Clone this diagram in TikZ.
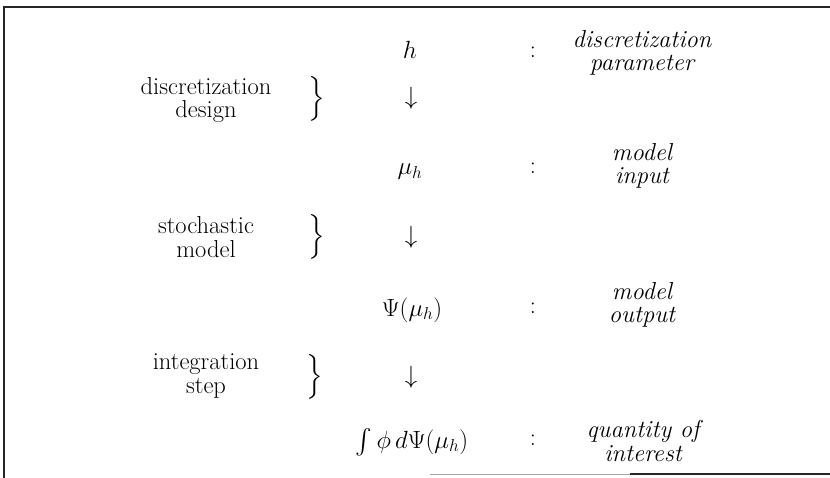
\documentclass[tikz,border=0pt]{standalone}
\usepackage{amsmath}
\begin{document}
\begin{tikzpicture}[x=1pt,y=-1pt,
  txt/.style={inner sep=0pt,align=center,font=\fontsize{24.5}{24}\selectfont},
  itx/.style={txt,font=\fontsize{24.5}{23.5}\selectfont\itshape},
  framel/.style={line width=1.6pt,draw=black!85}]
\useasboundingbox (0,0) rectangle (830,478);
% frame
\coordinate (tl) at (4,7);
\coordinate (tr) at (830,7);
\coordinate (bl) at (4,478);
\coordinate (bm) at (430,474);
\coordinate (bg) at (630,474);
\coordinate (br) at (830,474);
\draw[framel] (bl) -- (tl) -- (tr);
\draw[line width=1pt,draw=black!35] (bm) -- (bg);
\draw[framel] (bg) -- (br);
% middle column
\node[txt] (h)   at (410,50)  {$h$};
\node[txt] (a1)  at (411,98)  {$\downarrow$};
\node[txt] (mu)  at (410,172) {$\mu_h$};
\node[txt] (a2)  at (411,237) {$\downarrow$};
\node[txt] (psi) at (412,310) {$\Psi(\mu_h)$};
\node[txt] (a3)  at (411,377) {$\downarrow$};
\node[txt] (int) at (412,442) {$\int\phi\,d\Psi(\mu_h)$};
% colons
\node[txt] (c1) at (533,52)  {:};
\node[txt] (c2) at (533,168) {:};
\node[txt] (c3) at (533,308) {:};
\node[txt] (c4) at (533,440) {:};
% right descriptions
\node[itx] (r1) at (642,53)  {discretization\\parameter};
\node[itx] (r2) at (642,166) {model\\input};
\node[itx] (r3) at (642,305) {model\\output};
\node[itx] (r4) at (643,441) {quantity of\\interest};
% left labels
\node[txt] (l1) at (206,100) {discretization\\design};
\node[txt] (l2) at (206,237) {stochastic\\model};
\node[txt] (l3) at (206,376) {integration\\step};
% braces
\node[txt] (b1) at (316,99)  {$\left.\vrule height 14pt depth 14pt width 0pt\right\}$};
\node[txt] (b2) at (316,237) {$\left.\vrule height 14pt depth 14pt width 0pt\right\}$};
\node[txt] (b3) at (314,377) {$\left.\vrule height 14pt depth 14pt width 0pt\right\}$};
\end{tikzpicture}
\end{document}
